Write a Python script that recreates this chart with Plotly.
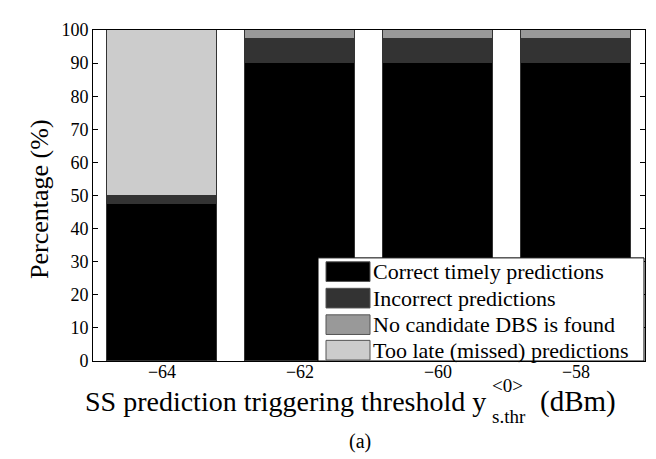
import plotly.graph_objects as go

thresholds = [-64, -62, -60, -58]
correct = [47.5, 90, 90, 90]
incorrect = [2.5, 7.2, 7.2, 7.2]
no_candidate = [0, 2.8, 2.8, 2.8]
too_late = [50, 0, 0, 0]
series_names = ["Correct timely predictions", "Incorrect predictions",
                "No candidate DBS is found", "Too late (missed) predictions"]
series_colors = ["#000000", "#333333", "#999999", "#cccccc"]
y_ticks = list(range(0, 101, 10))
x_ticks = [-64, -62, -60, -58]
x_tick_text = ["\u221264", "\u221262", "\u221260", "\u221258"]

W, H = 656, 459
L, R, T, B = 85, 637, 16, 353
FONT = "Liberation Serif"


def px(x):
    return (x - L) / (R - L)


def py(y):
    return (B - y) / (B - T)


fig = go.Figure()
for name, vals, col in zip(series_names, [correct, incorrect, no_candidate, too_late], series_colors):
    fig.add_trace(go.Bar(x=thresholds, y=vals, name=name, width=1.6,
                         marker=dict(color=col, line=dict(color="#333333", width=1)),
                         showlegend=False))

# manual legend
shapes = [dict(type="rect", xref="paper", yref="paper", x0=px(310), x1=px(636), y0=py(353), y1=py(248),
               fillcolor="white", line=dict(color="black", width=1), layer="above")]
annotations = []
row_tops = [252, 279, 306, 332]
for i, (name, col) in enumerate(zip(series_names, series_colors)):
    t = row_tops[i]
    shapes.append(dict(type="rect", xref="paper", yref="paper", x0=px(318), x1=px(362),
                       y0=py(t + 20), y1=py(t), fillcolor=col,
                       line=dict(color="#555555", width=1), layer="above"))
    annotations.append(dict(text=name, xref="paper", yref="paper", x=px(363), y=py(t + 10),
                            xanchor="left", yanchor="middle", showarrow=False,
                            font=dict(family=FONT, size=22, color="black")))

# axis titles
annotations += [
    dict(text="SS prediction triggering threshold y", xref="paper", yref="paper", x=px(480), y=py(394),
         xanchor="right", yanchor="middle", showarrow=False, font=dict(family=FONT, size=28, color="black")),
    dict(text="&lt;0&gt;", xref="paper", yref="paper", x=px(482), y=py(378),
         xanchor="left", yanchor="middle", showarrow=False, font=dict(family=FONT, size=19, color="black")),
    dict(text="s.thr", xref="paper", yref="paper", x=px(482), y=py(410),
         xanchor="left", yanchor="middle", showarrow=False, font=dict(family=FONT, size=19, color="black")),
    dict(text="(dBm)", xref="paper", yref="paper", x=px(530), y=py(394),
         xanchor="left", yanchor="middle", showarrow=False, font=dict(family=FONT, size=29, color="black")),
    dict(text="(a)", xref="paper", yref="paper", x=px(352), y=py(435),
         xanchor="center", yanchor="middle", showarrow=False, font=dict(family=FONT, size=20, color="black")),
    dict(text="Percentage (%)", xref="paper", yref="paper", x=px(32), y=py(188), textangle=-90,
         xanchor="center", yanchor="middle", showarrow=False, font=dict(family=FONT, size=26, color="black")),
]

fig.update_layout(
    width=W, height=H, barmode="stack", bargap=0,
    margin=dict(l=L, r=W - R, t=T, b=H - B),
    paper_bgcolor="white", plot_bgcolor="white",
    font=dict(family=FONT, size=18, color="black"),
    shapes=shapes, annotations=annotations,
    xaxis=dict(range=[-65, -57], tickvals=x_ticks, ticktext=x_tick_text,
               showline=True, mirror=True, linecolor="black", linewidth=1, ticks="",
               showgrid=False, zeroline=False, ticklabelstandoff=-6,
               tickfont=dict(family=FONT, size=18, color="black")),
    yaxis=dict(range=[0, 100], tickvals=y_ticks, showline=True, mirror="ticks", linecolor="black",
               linewidth=1, ticks="inside", ticklen=5, tickcolor="black", showgrid=False, zeroline=False,
               tickfont=dict(family=FONT, size=18, color="black")),
)
fig.write_html("out.html")
